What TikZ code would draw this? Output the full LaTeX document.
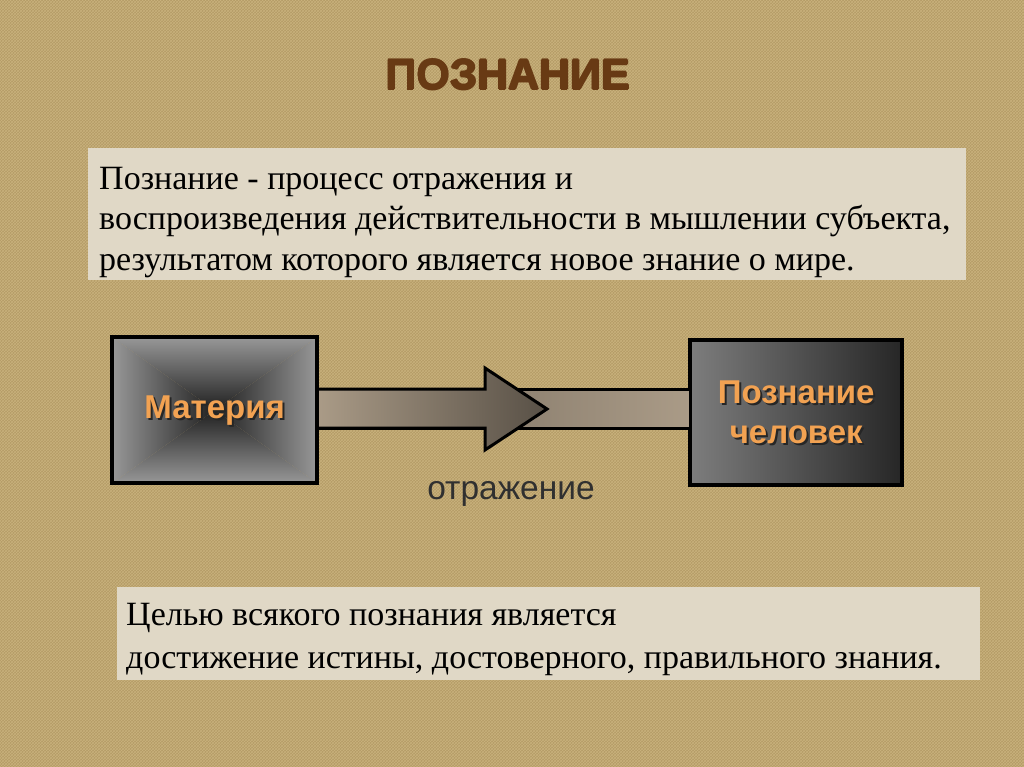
\documentclass[tikz,border=0pt]{standalone}
\usepackage{fontspec}
\setmainfont{Liberation Serif}
\setsansfont{Liberation Sans}
\usetikzlibrary{patterns}
\definecolor{bgc}{RGB}{180,155,102}
\definecolor{bglight}{RGB}{226,205,152}
\definecolor{paper}{RGB}{224,216,198}
\definecolor{titlec}{RGB}{104,58,20}
\definecolor{orangec}{RGB}{242,162,82}
\definecolor{edgegray}{RGB}{152,152,152}
\definecolor{coregray}{RGB}{32,32,32}
\definecolor{lgray}{RGB}{125,125,125}
\definecolor{dgray}{RGB}{38,38,38}
\definecolor{shaftl}{RGB}{170,155,135}
\definecolor{shaftd}{RGB}{88,80,70}
\definecolor{capc}{RGB}{48,48,48}
\tikzset{
  paperbox/.style={fill=paper, draw=none, anchor=north west, inner sep=0pt},
  bodytext/.style={align=left, anchor=base west, text=black, inner sep=0pt},
  lbl/.style={font=\sffamily\bfseries\fontsize{33}{40}\selectfont, text=orangec, align=center},
  lblsh/.style={font=\sffamily\bfseries\fontsize{33}{40}\selectfont, text=black!85, align=center},
  outl/.style={draw=black, line width=3pt, line join=miter}
}
\begin{document}
\begin{tikzpicture}[x=1pt,y=-1pt]
\useasboundingbox (0,0) rectangle (1024,767);
\fill[bgc] (0,0) rectangle (1024,767);
\fill[pattern=crosshatch, pattern color=bglight, opacity=0.45] (0,0) rectangle (1024,767);
% title
\foreach \dx/\dy in {-0.8/0,0.8/0,0/-0.8,0/0.8}
  \node[font=\sffamily\bfseries\fontsize{43}{43}\selectfont, text=titlec] at (508+\dx,75+\dy) {ПОЗНАНИЕ};
\node[font=\sffamily\bfseries\fontsize{43}{43}\selectfont, text=titlec] (title) at (508,75) {ПОЗНАНИЕ};
% definition box
\node[paperbox, minimum width=878pt, minimum height=132pt] (defbox) at (88,148) {};
\node[bodytext, font=\fontsize{34}{40.5}\selectfont] (deftext) at (99,270) {Познание - процесс отражения и\\воспроизведения действительности в мышлении субъекта,\\результатом которого является новое знание о мире.};
% goal box
\node[paperbox, minimum width=863pt, minimum height=93pt] (goalbox) at (117,587) {};
\node[bodytext, font=\fontsize{34}{43}\selectfont] (goaltext) at (126,668) {Целью всякого познания является\\достижение истины, достоверного, правильного знания.};
% boxes
\node[anchor=north west, minimum width=205pt, minimum height=146pt, inner sep=0pt] (mat) at (112,337) {};
\shade[top color=edgegray, bottom color=coregray] (mat.north west) -- (mat.north east) -- (mat.center) -- cycle;
\shade[bottom color=edgegray, top color=coregray] (mat.south west) -- (mat.south east) -- (mat.center) -- cycle;
\shade[left color=edgegray, right color=coregray] (mat.north west) -- (mat.south west) -- (mat.center) -- cycle;
\shade[right color=edgegray, left color=coregray] (mat.north east) -- (mat.south east) -- (mat.center) -- cycle;
\draw[black, line width=4pt] (mat.north west) rectangle (mat.south east);
\node[anchor=north west, minimum width=212pt, minimum height=145pt, inner sep=0pt] (cog) at (690,340) {};
\shade[left color=lgray, right color=dgray] (cog.north west) rectangle (cog.south east);
\draw[black, line width=4pt] (cog.north west) rectangle (cog.south east);
% arrow
\coordinate (st) at (mat.east |- 0,389);
\coordinate (sb) at (mat.east |- 0,428);
\coordinate (et) at (cog.west |- 0,389);
\coordinate (eb) at (cog.west |- 0,428);
\shade[left color=shaftd!70!shaftl, right color=shaftl, outl] (st) -- (et) -- (eb) -- (sb) -- cycle;
\shade[left color=shaftl, right color=shaftd, outl] (st) -- (485,389) -- (485,368) -- (547,409) -- (485,450) -- (485,428) -- (sb) -- cycle;
% labels
\node[lblsh] at ([shift={(2,2)}]mat.center) {Материя};
\node[lbl] (matl) at (mat.center) {Материя};
\node[lblsh] at ([shift={(2,2)}]cog.center) {Познание\\человек};
\node[lbl] (cogl) at (cog.center) {Познание\\человек};
\node[font=\sffamily\fontsize{33.5}{33.5}\selectfont, text=capc] (refl) at (511,494) {отражение};
\end{tikzpicture}
\end{document}
